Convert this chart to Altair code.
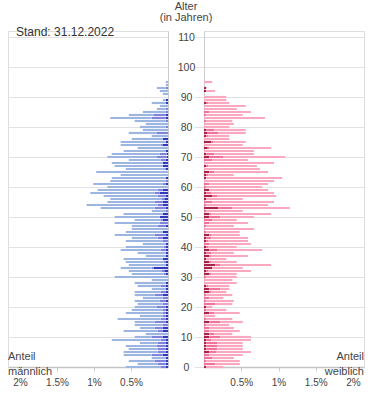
import altair as alt
import pandas as pd

ages = list(range(96))

# Männlich: Gesamtanteil je Alter (in %), dunkler und mittlerer Anteil
m_total = [0.57, 0.41, 0.53, 0.22, 0.60, 0.60, 0.53, 0.57, 0.38, 0.76,
           0.45, 0.30, 0.60, 0.38, 0.45, 0.45, 0.68, 0.38, 0.57, 0.49,
           0.45, 0.41, 0.45, 0.34, 0.45, 0.45, 0.22, 0.41, 0.45, 0.22,
           0.72, 0.49, 0.53, 0.64, 0.53, 0.57, 0.60, 0.30, 0.41, 0.64,
           0.57, 0.34, 0.57, 0.49, 0.72, 0.57, 0.49, 0.49, 0.72, 0.45,
           0.72, 0.60, 0.22, 0.91, 1.10, 0.82, 0.78, 0.87, 1.05, 0.95,
           0.82, 1.01, 0.78, 0.76, 0.64, 0.97, 0.57, 0.72, 0.76, 0.53,
           0.82, 0.76, 0.60, 0.41, 0.64, 0.64, 0.49, 0.22, 0.53, 0.34,
           0.38, 0.30, 0.45, 0.78, 0.53, 0.34, 0.15, 0.11, 0.22, 0.07,
           0.00, 0.07, 0.11, 0.15, 0.03, 0.03]
m_dark = [0.03, 0.03, 0.03, 0.03, 0.07, 0.03, 0.03, 0.03, 0.03, 0.03,
          0.07, 0.00, 0.07, 0.07, 0.00, 0.03, 0.03, 0.03, 0.03, 0.03,
          0.03, 0.00, 0.03, 0.00, 0.07, 0.03, 0.03, 0.03, 0.03, 0.00,
          0.00, 0.03, 0.05, 0.19, 0.03, 0.03, 0.07, 0.03, 0.03, 0.03,
          0.03, 0.03, 0.00, 0.07, 0.03, 0.07, 0.00, 0.03, 0.00, 0.07,
          0.11, 0.07, 0.00, 0.03, 0.07, 0.07, 0.05, 0.03, 0.11, 0.07,
          0.00, 0.03, 0.00, 0.03, 0.00, 0.00, 0.03, 0.07, 0.07, 0.03,
          0.02, 0.02, 0.03, 0.00, 0.07, 0.03, 0.07, 0.00, 0.00, 0.00,
          0.00, 0.00, 0.00, 0.03, 0.03, 0.00, 0.00, 0.00, 0.03, 0.03,
          0.00, 0.00, 0.00, 0.00, 0.00, 0.00]
m_mid = [0.07, 0.11, 0.15, 0.00, 0.15, 0.11, 0.11, 0.12, 0.11, 0.07,
         0.15, 0.00, 0.07, 0.11, 0.07, 0.15, 0.07, 0.04, 0.04, 0.04,
         0.12, 0.07, 0.08, 0.07, 0.11, 0.07, 0.00, 0.07, 0.00, 0.00,
         0.00, 0.03, 0.04, 0.03, 0.00, 0.03, 0.00, 0.00, 0.00, 0.07,
         0.03, 0.00, 0.07, 0.07, 0.15, 0.00, 0.00, 0.11, 0.11, 0.03,
         0.00, 0.00, 0.03, 0.15, 0.07, 0.11, 0.04, 0.11, 0.07, 0.07,
         0.00, 0.04, 0.03, 0.00, 0.00, 0.00, 0.02, 0.00, 0.00, 0.07,
         0.13, 0.09, 0.00, 0.00, 0.03, 0.00, 0.00, 0.00, 0.15, 0.00,
         0.03, 0.00, 0.03, 0.19, 0.16, 0.03, 0.03, 0.00, 0.00, 0.00,
         0.00, 0.00, 0.00, 0.03, 0.00, 0.00]

# Weiblich
f_total = [0.26, 0.48, 0.48, 0.40, 0.52, 0.63, 0.52, 0.52, 0.52, 0.63,
           0.63, 0.38, 0.48, 0.40, 0.34, 0.52, 0.38, 0.15, 0.48, 0.30,
           0.11, 0.38, 0.40, 0.26, 0.38, 0.30, 0.34, 0.34, 0.44, 0.38,
           0.44, 0.44, 0.63, 0.52, 0.90, 0.44, 0.30, 0.59, 0.40, 0.78,
           0.44, 0.63, 0.59, 0.59, 0.48, 0.48, 0.67, 0.40, 0.59, 0.44,
           0.67, 0.90, 0.52, 1.15, 0.86, 0.94, 0.52, 0.97, 0.94, 0.86,
           0.78, 0.86, 0.94, 1.05, 0.40, 0.86, 0.75, 0.71, 0.94, 0.59,
           1.09, 0.67, 0.67, 0.90, 0.52, 0.56, 0.34, 0.34, 0.56, 0.56,
           0.34, 0.40, 0.38, 0.82, 0.52, 0.63, 0.44, 0.56, 0.34, 0.30,
           0.30, 0.00, 0.15, 0.03, 0.00, 0.11]
f_dark = [0.03, 0.00, 0.00, 0.00, 0.00, 0.07, 0.03, 0.03, 0.03, 0.03,
          0.07, 0.07, 0.00, 0.00, 0.00, 0.07, 0.00, 0.00, 0.07, 0.00,
          0.03, 0.00, 0.00, 0.00, 0.00, 0.07, 0.07, 0.03, 0.00, 0.00,
          0.00, 0.07, 0.03, 0.11, 0.15, 0.07, 0.03, 0.07, 0.03, 0.07,
          0.03, 0.00, 0.03, 0.03, 0.07, 0.00, 0.00, 0.00, 0.00, 0.00,
          0.07, 0.07, 0.00, 0.19, 0.00, 0.00, 0.03, 0.11, 0.03, 0.07,
          0.00, 0.00, 0.00, 0.03, 0.03, 0.07, 0.00, 0.03, 0.00, 0.00,
          0.07, 0.03, 0.00, 0.05, 0.00, 0.10, 0.00, 0.03, 0.04, 0.03,
          0.00, 0.00, 0.00, 0.00, 0.00, 0.00, 0.00, 0.00, 0.03, 0.00,
          0.00, 0.00, 0.03, 0.03, 0.00, 0.00]
f_mid = [0.00, 0.15, 0.03, 0.11, 0.07, 0.10, 0.15, 0.15, 0.15, 0.07,
         0.15, 0.07, 0.07, 0.07, 0.03, 0.15, 0.03, 0.00, 0.07, 0.03,
         0.00, 0.15, 0.03, 0.07, 0.03, 0.03, 0.15, 0.03, 0.00, 0.00,
         0.03, 0.03, 0.03, 0.00, 0.07, 0.03, 0.00, 0.03, 0.07, 0.11,
         0.03, 0.07, 0.03, 0.07, 0.03, 0.03, 0.00, 0.03, 0.07, 0.11,
         0.15, 0.03, 0.03, 0.19, 0.03, 0.11, 0.00, 0.07, 0.07, 0.00,
         0.03, 0.07, 0.00, 0.00, 0.03, 0.07, 0.00, 0.03, 0.00, 0.11,
         0.19, 0.11, 0.00, 0.02, 0.00, 0.03, 0.00, 0.03, 0.15, 0.11,
         0.00, 0.00, 0.03, 0.00, 0.03, 0.07, 0.00, 0.00, 0.03, 0.00,
         0.00, 0.00, 0.00, 0.00, 0.00, 0.00]

age_ticks = list(range(0, 111, 10))
pct_ticks = [0.5, 1, 1.5, 2]

seg_keys = ["m1", "m2", "m3", "f1", "f2", "f3"]
seg_colors = ["#3039bd", "#8083dc", "#9cb6e1", "#ab2149", "#f3729a", "#f9a8bf"]


def long_df(total, dark, mid, prefix):
    rows = []
    for a, t, d, m in zip(ages, total, dark, mid):
        light = max(t - d - m, 0)
        start = 0.0
        for seg, v in zip(["1", "2", "3"], [d, m, light]):
            rows.append({"age": a, "seg": prefix + seg, "x0": start,
                         "x1": start + v, "y0": a - 0.36, "y1": a + 0.36})
            start += v
    return pd.DataFrame(rows)


dfm = long_df(m_total, m_dark, m_mid, "m")
dff = long_df(f_total, f_dark, f_mid, "f")

FONT = "Liberation Sans"
GRID = "#e2e2e2"
DOMAIN = "#cccccc"
W, H = 160, 336

y_scale = alt.Scale(domain=[0, 112], nice=False, zero=False)
color_enc = alt.Color("seg:N", scale=alt.Scale(domain=seg_keys, range=seg_colors),
                      legend=None)


def x_axis():
    return alt.Axis(values=pct_ticks, labelExpr="datum.value + '%'", grid=False,
                    tickSize=4, tickColor=DOMAIN, domainColor="#c4c4c4",
                    domainWidth=1.5, labelPadding=6, labelFontSize=10,
                    labelColor="#444", title=None, labelFont=FONT)


left_bars = alt.Chart(dfm).mark_rect().encode(
    x=alt.X("x0:Q", scale=alt.Scale(domain=[0, W / 74], reverse=True, nice=False),
            axis=x_axis()),
    x2="x1:Q",
    y=alt.Y("y0:Q", scale=y_scale,
            axis=alt.Axis(orient="right", values=age_ticks, labels=False, ticks=False,
                          domainColor=DOMAIN, grid=True, gridColor=GRID, title=None)),
    y2="y1:Q",
    color=color_enc,
)

right_bars = alt.Chart(dff).mark_rect().encode(
    x=alt.X("x0:Q", scale=alt.Scale(domain=[0, W / 74.5], nice=False), axis=x_axis()),
    x2="x1:Q",
    y=alt.Y("y0:Q", scale=y_scale,
            axis=alt.Axis(orient="left", values=age_ticks, labelAlign="center",
                          labelPadding=8, tickSize=10, tickColor=GRID,
                          domainColor=DOMAIN, grid=True, gridColor=GRID, title=None,
                          labelFontSize=10.5, labelColor="#444", labelFont=FONT)),
    y2="y1:Q",
    color=color_enc,
)


def label(text, x, y, align, size=11, color="#444"):
    return alt.Chart(pd.DataFrame({"t": [text]})).mark_text(
        align=align, baseline="middle", fontSize=size, color=color, font=FONT
    ).encode(x=alt.value(x), y=alt.value(y), text="t:N")


left = alt.layer(
    left_bars,
    label("Stand: 31.12.2022", 8, 1, "left", size=12, color="#333"),
    label("Anteil", 0, H - 10, "left"),
    label("männlich", 0, H + 5, "left"),
).properties(width=W, height=H)

right = alt.layer(
    right_bars,
    label("Alter", -18, -24, "center"),
    label("(in Jahren)", -18, -13, "center"),
    label("Anteil", W, H - 10, "right"),
    label("weiblich", W, H + 5, "right"),
).properties(width=W, height=H)

chart = alt.hconcat(left, right, spacing=36, bounds="flush").properties(
    padding={"left": 7, "top": 0, "right": 5, "bottom": 5}
).configure_view(stroke=None).configure(font=FONT)

chart.save("out.html", embed_options={"renderer": "svg", "actions": False})
